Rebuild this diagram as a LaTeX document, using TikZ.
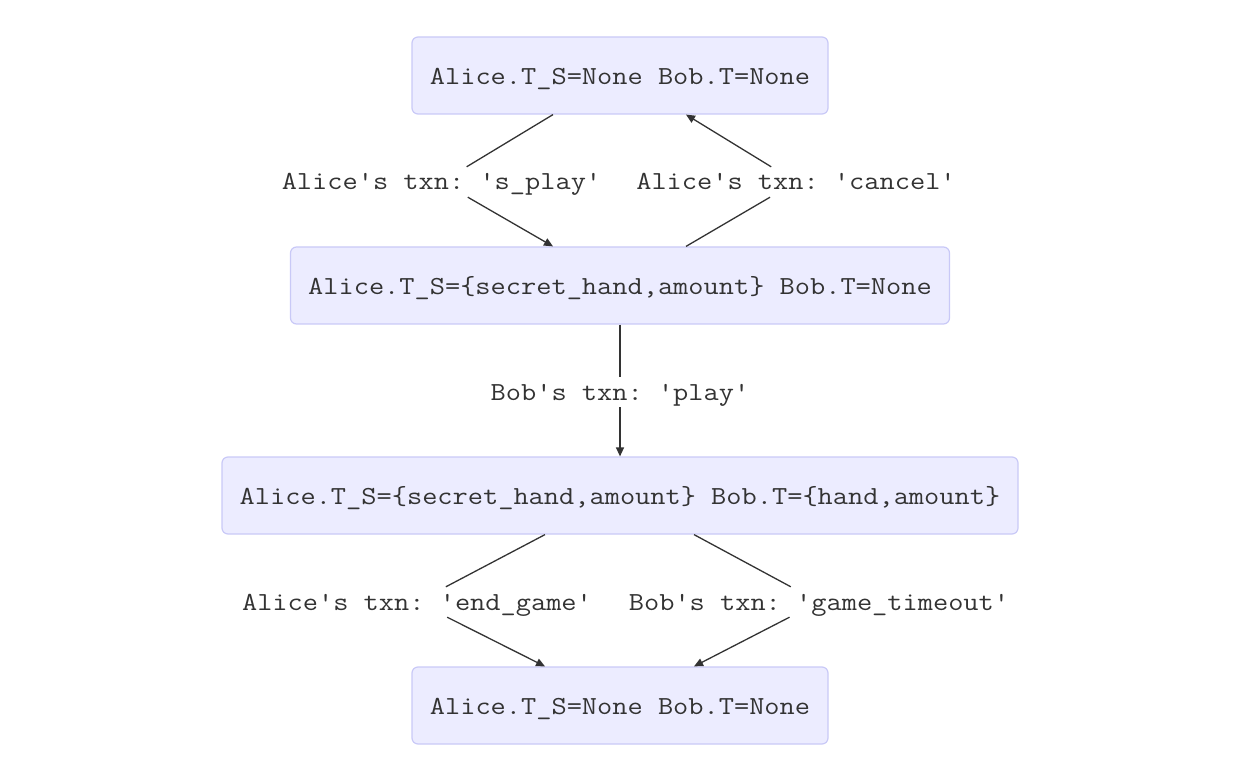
\documentclass[tikz,border=0pt]{standalone}
\usepackage{fontspec}
\setmonofont{Latin Modern Mono}[FakeStretch=1.136]
\usetikzlibrary{arrows.meta}
\definecolor{statefill}{HTML}{ECECFF}
\definecolor{statedraw}{HTML}{C9C9F7}
\definecolor{ink}{HTML}{333333}
\begin{document}
\begin{tikzpicture}[x=1pt,y=-1pt,
  state/.style={draw=statedraw,fill=statefill,line width=1.2pt,rounded corners=6pt,
    minimum height=77pt,inner sep=0pt,text height=20pt,text depth=2.4pt,text=ink,
    font=\ttfamily\fontsize{26}{28}\selectfont},
  edgelabel/.style={fill=white,inner sep=3pt,minimum height=30pt,text height=20pt,
    text depth=4pt,text=ink,font=\ttfamily\fontsize{26}{28}\selectfont},
  trans/.style={draw=ink,line width=1.3pt,-{Triangle[length=9pt,width=8pt]}}]
\useasboundingbox (0,0) rectangle (1239,775);

% states
\node[state,minimum width=416pt] (s0) at (620,75.5) {Alice.T\_S=None Bob.T=None};
\node[state,minimum width=659pt] (s1) at (620,285.5) {Alice.T\_S=\{secret\_hand,amount\} Bob.T=None};
\node[state,minimum width=796pt] (s2) at (620,495.5) {Alice.T\_S=\{secret\_hand,amount\} Bob.T=\{hand,amount\}};
\node[state,minimum width=416pt] (s3) at (620,705.5) {Alice.T\_S=None Bob.T=None};

% transition labels
\node[edgelabel] (splay) at (441.5,182) {Alice's txn: 's\_play'};
\node[edgelabel] (cancel) at (796,182) {Alice's txn: 'cancel'};
\node[edgelabel] (play) at (620,392) {Bob's txn: 'play'};
\node[edgelabel] (endgame) at (417,602) {Alice's txn: 'end\_game'};
\node[edgelabel] (timeout) at (819,602) {Bob's txn: 'game\_timeout'};

% attachment points on the state borders
\coordinate (s0a) at ([xshift=-67pt]s0.south);
\coordinate (s0b) at ([xshift=66pt]s0.south);
\coordinate (s1a) at ([xshift=-67pt]s1.north);
\coordinate (s1b) at ([xshift=66pt]s1.north);
\coordinate (s2a) at ([xshift=-75pt]s2.south);
\coordinate (s2b) at ([xshift=74pt]s2.south);
\coordinate (s3a) at ([xshift=-75pt]s3.north);
\coordinate (s3b) at ([xshift=74pt]s3.north);

% transitions
\draw[trans] (s0a) -- (splay) -- (s1a);
\draw[trans] (s1b) -- (cancel) -- (s0b);
\draw[trans] (s1.south) -- (play) -- (s2.north);
\draw[trans] (s2a) -- (endgame) -- (s3a);
\draw[trans] (s2b) -- (timeout) -- (s3b);
\end{tikzpicture}
\end{document}
